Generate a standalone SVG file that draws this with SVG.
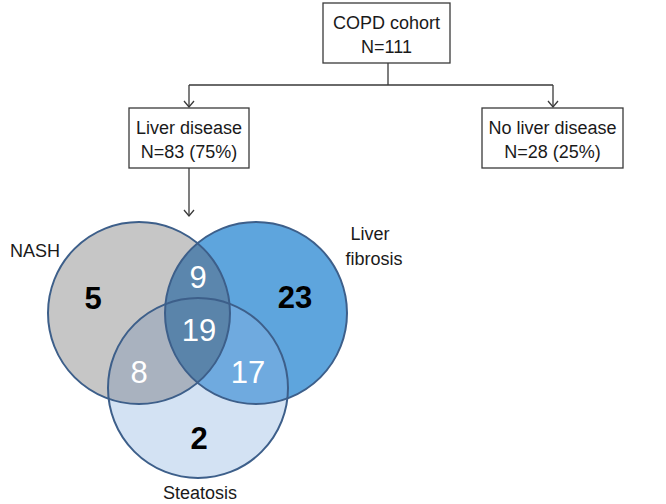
<svg xmlns="http://www.w3.org/2000/svg" width="666" height="504" viewBox="0 0 666 504">
<style>
.box{fill:#fff;stroke:#3a3a3a;stroke-width:1.3}
.t{font-family:"Liberation Sans",Arial,sans-serif;font-size:18px;fill:#1a1a1a;text-anchor:middle}
.c{stroke:#3d5f8a;stroke-width:2;fill:none}
.n{font-family:"Liberation Sans",Arial,sans-serif;font-size:31px;text-anchor:middle}
.w{fill:#fff}
.b{fill:#000;font-weight:bold}
.ln{stroke:#3a3a3a;stroke-width:1.3;fill:none}
</style>
<defs>
<marker id="ah" markerWidth="12" markerHeight="12" refX="10" refY="6" orient="auto" markerUnits="userSpaceOnUse" viewBox="0 0 12 12">
<path d="M4,1 L10,6 L4,11" fill="none" stroke="#3a3a3a" stroke-width="1.3"/>
</marker>
<clipPath id="cA"><circle cx="139" cy="313" r="91"/></clipPath>
<clipPath id="cB"><circle cx="256" cy="313" r="91"/></clipPath>
<clipPath id="cC"><circle cx="198" cy="388" r="90"/></clipPath>
</defs>
<g id="connectors">
<path class="ln" d="M388,63 V85 M189,85 H553"/>
<path class="ln" d="M189,85 V107" marker-end="url(#ah)"/>
<path class="ln" d="M553,85 V107" marker-end="url(#ah)"/>
<path class="ln" d="M189,168 V216" marker-end="url(#ah)"/>
</g>
<g id="copd">
<rect class="box" x="323" y="3" width="127" height="60"/>
<text class="t" x="386.5" y="29">COPD cohort</text>
<text class="t" x="386.5" y="53">N=111</text>
</g>
<g id="liver">
<rect class="box" x="129" y="108" width="120" height="60"/>
<text class="t" x="189" y="134">Liver disease</text>
<text class="t" x="189" y="158">N=83 (75%)</text>
</g>
<g id="noliver">
<rect class="box" x="482" y="108" width="141" height="60"/>
<text class="t" x="552.5" y="134">No liver disease</text>
<text class="t" x="552.5" y="158">N=28 (25%)</text>
</g>
<g id="venn">
<circle cx="139" cy="313" r="91" fill="#c6c6c6"/>
<circle cx="256" cy="313" r="91" fill="#5ea5dd"/>
<circle cx="198" cy="388" r="90" fill="#d3e2f3"/>
<circle cx="198" cy="388" r="90" fill="#a9b2bf" clip-path="url(#cA)"/>
<circle cx="198" cy="388" r="90" fill="#6faadf" clip-path="url(#cB)"/>
<circle cx="256" cy="313" r="91" fill="#5b86ad" clip-path="url(#cA)"/>
<g clip-path="url(#cA)"><circle cx="198" cy="388" r="90" fill="#5a84aa" clip-path="url(#cB)"/></g>
<circle class="c" cx="139" cy="313" r="91"/>
<circle class="c" cx="256" cy="313" r="91"/>
<circle class="c" cx="198" cy="388" r="90"/>
<text class="n b" x="93" y="309">5</text>
<text class="n b" x="295" y="308">23</text>
<text class="n b" x="199" y="449">2</text>
<text class="n w" x="198" y="288">9</text>
<text class="n w" x="199" y="341">19</text>
<text class="n w" x="139" y="383">8</text>
<text class="n w" x="248" y="383">17</text>
</g>
<g id="labels">
<text class="t" x="35" y="257">NASH</text>
<text class="t" x="370" y="240">Liver</text>
<text class="t" x="374" y="265">fibrosis</text>
<text class="t" x="200" y="499">Steatosis</text>
</g>
</svg>
